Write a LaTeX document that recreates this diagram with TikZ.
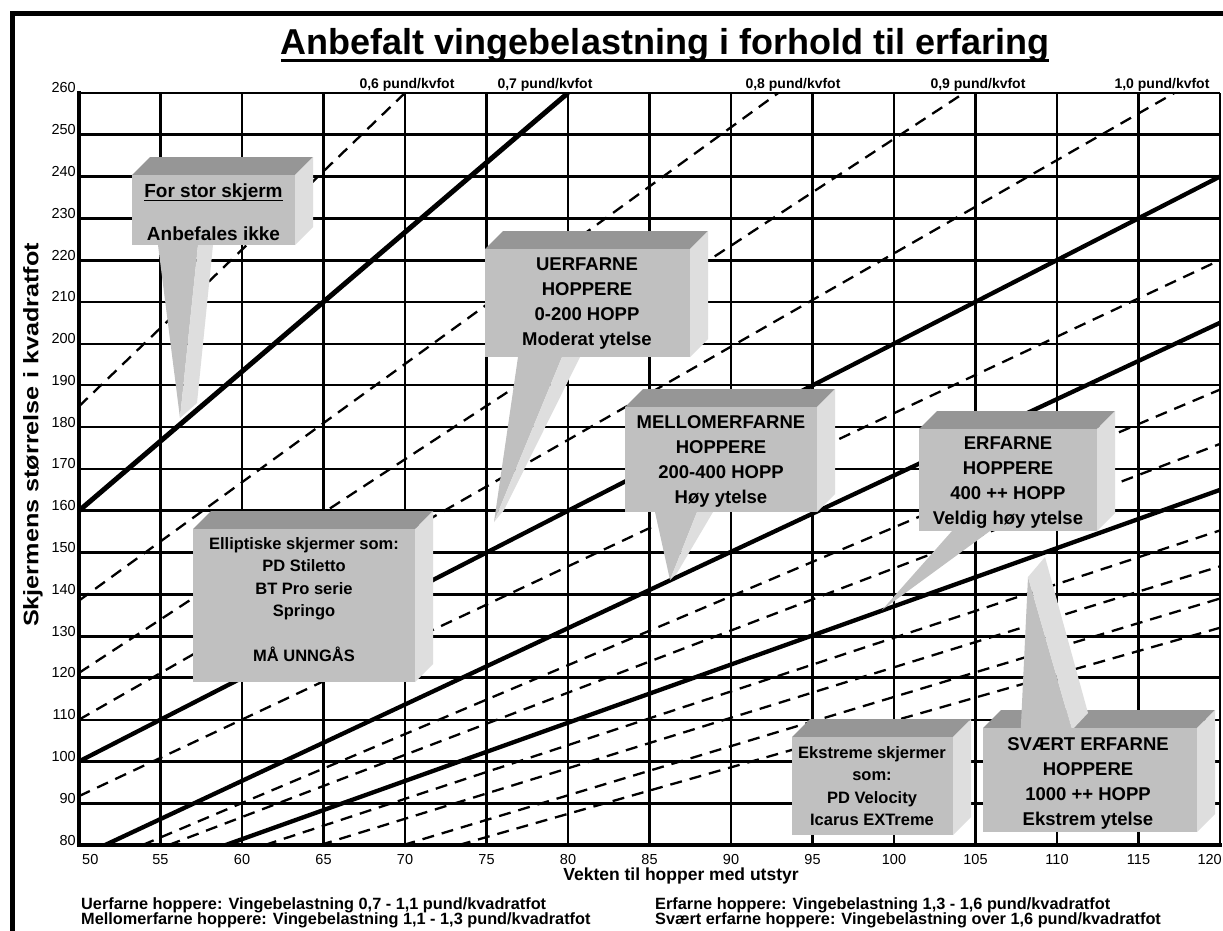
\documentclass[tikz,border=0pt]{standalone}
\usepackage{fontspec}
\setmainfont{Liberation Sans}
\definecolor{frontc}{HTML}{C0C0C0}
\definecolor{topc}{HTML}{969696}
\definecolor{sidec}{HTML}{DEDEDE}
\tikzset{
  gridln/.style={line width=2.9pt, black},
  gridthin/.style={line width=2.1pt, black},
  axisln/.style={line width=4.4pt, black, line cap=rect},
  dashln/.style={line width=2.3pt, black, dash pattern=on 12pt off 8pt},
  thickln/.style={line width=4.3pt, black},
  ticklab/.style={font=\fontsize{14.5}{14.5}\selectfont, inner sep=0pt},
  toplab/.style={font=\bfseries\fontsize{14}{14}\selectfont, inner sep=0pt, anchor=base},
  boxtxt/.style={font=\bfseries\fontsize{18.5}{25}\selectfont, align=center, inner sep=0pt, anchor=north},
  smalltxt/.style={font=\bfseries\fontsize{16.5}{22.5}\selectfont, align=center, inner sep=0pt, anchor=north},
  foot/.style={font=\bfseries\fontsize{16.3}{15}\selectfont, inner sep=0pt, anchor=base west},
}
\newcommand\tdbox[4]{%
  \fill[topc] (#1,#2) -- (#1+18,#2-18) -- (#3+18,#2-18) -- (#3,#2) -- cycle;
  \fill[sidec] (#3,#2) -- (#3+18,#2-18) -- (#3+18,#4-18) -- (#3,#4) -- cycle;
}
\newcommand\tdfront[4]{\fill[frontc] (#1,#2) rectangle (#3,#4);}
\begin{document}
\begin{tikzpicture}[x=1pt,y=-1pt]
\useasboundingbox (0,0) rectangle (1223,931);
\fill[white] (0,0) rectangle (1223,931);
% outer frame
\draw[line width=5pt] (12,935) -- (12,14) -- (1230,14);
% title
\node[font=\bfseries\fontsize{36}{36}\selectfont, inner sep=0pt, anchor=base] (title) at (665,55) {Anbefalt vingebelastning i forhold til erfaring};
\draw[line width=3pt] ([yshift=-6pt]title.base west) -- ([yshift=-6pt]title.base east);
% plot
\begin{scope}[shift={(-736,1179.24)}, x=16.3pt, y=4.178pt]
  \foreach \gx in {55,60,65,70,75,80,85,90,105,115,120} \draw[gridln] (\gx,80) -- (\gx,260);
  \foreach \gx in {95,100,110} \draw[gridthin] (\gx,80) -- (\gx,260);
  \foreach \gy in {90,100,120,130,140,160,220,230,240,250,260} \draw[gridln] (50,\gy) -- (120,\gy);
  \foreach \gy in {110,150,170,180,190,200,210} \draw[gridthin] (50,\gy) -- (120,\gy);
  \begin{scope}
    \clip (50,80) rectangle (120,260);
    \draw[dashln] (50,185) -- (70,260);
    \draw[dashln] (50,138.5) -- (92.9,260);
    \draw[dashln] (50,121.2) -- (104.3,260);
    \draw[dashln] (50,110) -- (117.2,260);
    \draw[dashln] (50,91.7) -- (120,220);
    \draw[dashln] (53.9,80) -- (120,189);
    \draw[dashln] (55.5,80) -- (120,176);
    \draw[dashln] (61.4,80) -- (120,155.3);
    \draw[dashln] (64.8,80) -- (120,146.7);
    \draw[dashln] (69.9,80) -- (120,139);
    \draw[dashln] (73.3,80) -- (120,132);
    \draw[thickln, line width=5pt] (50,160) -- (80,260);
    \draw[thickln] (50,100) -- (120,240);
    \draw[thickln] (51.6,80) -- (120,205);
    \draw[thickln] (59,80) -- (120,165);
  \end{scope}
  \draw[axisln] (50,260) -- (50,80) -- (120,80);
  \foreach \gy in {80,90,...,260}
    \node[ticklab, anchor=base east, xshift=-3pt] (yl\gy) at (50,\gy) {\gy};
  \node[ticklab, anchor=base west, yshift=-19pt, xshift=3pt] (xl50) at (50,80) {50};
  \foreach \gx in {55,60,...,115}
    \node[ticklab, anchor=base, yshift=-19pt] (xl\gx) at (\gx,80) {\gx};
  \node[ticklab, anchor=base east, yshift=-19pt, xshift=2pt] (xl120) at (120,80) {120};
\end{scope}
% line labels
\node[toplab] (l06) at (407,89) {0,6 pund/kvfot};
\node[toplab] (l07) at (545,89) {0,7 pund/kvfot};
\node[toplab] (l08) at (793,89) {0,8 pund/kvfot};
\node[toplab] (l09) at (978,89) {0,9 pund/kvfot};
\node[toplab] (l10) at (1162,89) {1,0 pund/kvfot};
% axis titles
\node[font=\bfseries\fontsize{21}{21}\selectfont, rotate=90, inner sep=0pt] (ytitle) at (33,435) {\scalebox{1.2}[1]{Skjermens størrelse i kvadratfot}};
\node[font=\bfseries\fontsize{17.5}{17.5}\selectfont, inner sep=0pt, anchor=base] (xtitle) at (681,880) {Vekten til hopper med utstyr};
% footnotes
\node[foot] (f1) at (81,909) {Uerfarne hoppere: Vingebelastning 0,7 - 1,1 pund/kvadratfot};
\node[foot] (f2) at (81,924) {Mellomerfarne hoppere: Vingebelastning 1,1 - 1,3 pund/kvadratfot};
\node[foot] (f3) at (655,909) {Erfarne hoppere: Vingebelastning 1,3 - 1,6 pund/kvadratfot};
\node[foot] (f4) at (655,924) {Svært erfarne hoppere: Vingebelastning over 1,6 pund/kvadratfot};
% box 1
\tdbox{132}{175}{295}{245}
\fill[frontc] (158,245) -- (198,245) -- (180,418) -- cycle;
\fill[sidec] (198,245) -- (213,245) -- (197,403) -- (180,418) -- cycle;
\tdfront{132}{175}{295}{245}
\node[font=\bfseries\fontsize{19}{19}\selectfont, inner sep=0pt, anchor=base] (b1a) at (213.5,197) {For stor skjerm};
\draw[line width=1.7pt] ([yshift=-3.5pt]b1a.base west) -- ([yshift=-3.5pt]b1a.base east);
\node[font=\bfseries\fontsize{19}{19}\selectfont, inner sep=0pt, anchor=base] (b1b) at (213.5,240) {Anbefales ikke};
% box 2
\tdbox{485}{249}{690}{357}
\fill[frontc] (518,357) -- (562,357) -- (494,522) -- cycle;
\fill[sidec] (562,357) -- (580,357) -- (504,510) -- (494,522) -- cycle;
\tdfront{485}{249}{690}{357}
\node[boxtxt] (b2) at (587,258) {UERFARNE\\HOPPERE\\0-200 HOPP\\Moderat ytelse};
% box 3
\tdbox{193}{529}{415}{682}
\tdfront{193}{529}{415}{682}
\node[smalltxt] (b3) at (304,537) {Elliptiske skjermer som:\\PD Stiletto\\BT Pro serie\\Springo\\[22.5pt]MÅ UNNGÅS};
% box 4
\tdbox{625}{407}{817}{512}
\fill[frontc] (655,512) -- (697,512) -- (670,580) -- cycle;
\fill[sidec] (697,512) -- (713,512) -- (677,573) -- (670,580) -- cycle;
\tdfront{625}{407}{817}{512}
\node[boxtxt] (b4) at (721,415) {MELLOMERFARNE\\HOPPERE\\200-400 HOPP\\Høy ytelse};
% box 5
\tdbox{919}{429}{1097}{531}
\fill[frontc] (952,531) -- (990,531) -- (882,610) -- cycle;
\tdfront{919}{429}{1097}{531}
\node[boxtxt] (b5) at (1008,437) {ERFARNE\\HOPPERE\\400 ++ HOPP\\Veldig høy ytelse};
% box 7
\tdbox{792}{737}{953}{835}
\tdfront{792}{737}{953}{835}
\node[smalltxt] (b7) at (872,746) {Ekstreme skjermer\\som:\\PD Velocity\\Icarus EXTreme};
% box 6
\tdbox{983}{728}{1197}{832}
\fill[frontc] (1020,745) -- (1028,577) -- (1072,730) -- (1075,745) -- cycle;
\fill[sidec] (1028,577) -- (1045,557) -- (1088,713) -- (1072,730) -- cycle;
\tdfront{983}{728}{1197}{832}
\node[boxtxt] (b6) at (1088,737) {SVÆRT ERFARNE\\HOPPERE\\1000 ++ HOPP\\Ekstrem ytelse};
\end{tikzpicture}
\end{document}
